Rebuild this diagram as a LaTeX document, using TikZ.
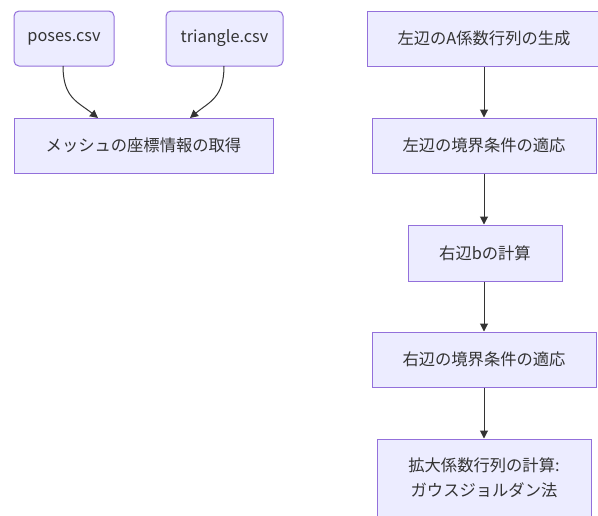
\documentclass[tikz,border=0pt]{standalone}
\usepackage{fontspec}
\setmainfont{Noto Sans CJK JP}
\usetikzlibrary{arrows.meta}
\definecolor{boxfill}{HTML}{ECECFF}
\definecolor{boxline}{HTML}{9370DB}
\definecolor{edge}{HTML}{333333}
\definecolor{txt}{HTML}{333333}
\tikzset{
  box/.style={draw=boxline, fill=boxfill, line width=1pt, text=txt, font=\fontsize{16.3}{25}\selectfont, inner sep=0pt, align=center},
  rbox/.style={box, rounded corners=5pt},
  conn/.style={draw=edge, line width=1pt, -{Triangle[length=8pt,width=8pt]}}
}
\begin{document}
\begin{tikzpicture}[x=1pt,y=-1pt]
\useasboundingbox (0,0) rectangle (598,515);
\node[rbox, minimum width=100pt, minimum height=55pt] (poses) at (64,38.5) {poses.csv};
\node[rbox, minimum width=117pt, minimum height=55pt] (tri) at (224.5,38.5) {triangle.csv};
\node[box, minimum width=259pt, minimum height=55pt] (mesh) at (143.5,145.5) {メッシュの座標情報の取得};
\coordinate (p1) at (63,66);
\coordinate (p2) at (98,118);
\coordinate (t1) at (224,66);
\coordinate (t2) at (190,118);
\draw[conn] (p1) .. controls (63,98) and (78,102) .. (p2);
\draw[conn] (t1) .. controls (224,98) and (209,102) .. (t2);

\node[box, minimum width=234pt, minimum height=55pt] (b1) at (484,38.5) {左辺のA係数行列の生成};
\node[box, minimum width=224pt, minimum height=55pt] (b2) at (484,145.5) {左辺の境界条件の適応};
\node[box, minimum width=154pt, minimum height=56pt] (b3) at (485,253) {右辺bの計算};
\node[box, minimum width=224pt, minimum height=55pt] (b4) at (484,359.5) {右辺の境界条件の適応};
\node[box, minimum width=214pt, minimum height=78pt] (b5) at (484,478) {拡大係数行列の計算:\\ガウスジョルダン法};
\draw[conn] (b1.south -| 484,0) -- (b2.north -| 484,0);
\draw[conn] (b2.south -| 484,0) -- (b3.north -| 484,0);
\draw[conn] (b3.south -| 484,0) -- (b4.north -| 484,0);
\draw[conn] (b4.south -| 484,0) -- (b5.north -| 484,0);
\end{tikzpicture}
\end{document}
